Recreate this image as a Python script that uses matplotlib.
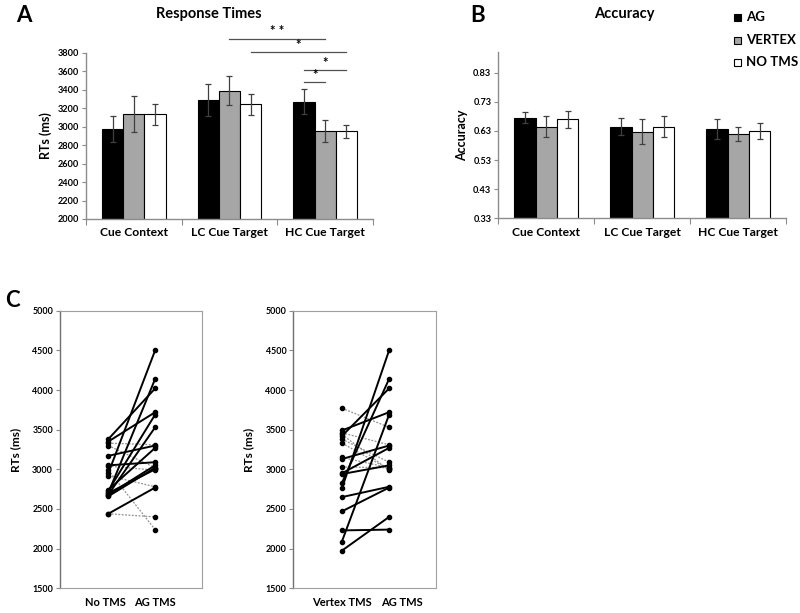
import matplotlib
matplotlib.use("Agg")
import matplotlib.pyplot as plt
import numpy as np

plt.rcParams['font.family'] = ['Lato', 'DejaVu Sans']
plt.rcParams['font.weight'] = 'bold'

# ---------------- data ----------------
categories = ["Cue Context", "LC Cue Target", "HC Cue Target"]
conditions = ["AG", "VERTEX", "NO TMS"]

rt_ag = [2975, 3290, 3270]
rt_vertex = [3140, 3390, 2950]
rt_notms = [3135, 3240, 2950]
rt_ag_err = [140, 170, 135]
rt_vertex_err = [195, 160, 120]
rt_notms_err = [115, 118, 70]

acc_ag = [0.676, 0.645, 0.637]
acc_vertex = [0.645, 0.628, 0.620]
acc_notms = [0.670, 0.645, 0.630]
acc_ag_err = [0.020, 0.028, 0.033]
acc_vertex_err = [0.036, 0.042, 0.023]
acc_notms_err = [0.030, 0.035, 0.027]

# significance brackets: (x start, x end, height, label)
sig_x1 = [1.0, 1.22, 1.78, 1.78]
sig_x2 = [2.0, 2.22, 2.22, 2.0]
sig_y = [3950, 3808, 3613, 3483]
sig_lbl = ["* *", "*", "*", "*"]

# individual subjects (paired)
ag_tms = [4500, 4140, 4020, 3720, 3690, 3530, 3300, 3270, 3310, 3090,
          3050, 3020, 3000, 3020, 2990, 2770, 2780, 2400, 2240]
no_tms = [2950, 2700, 3380, 3350, 2730, 2680, 3170, 2740, 3330, 3050,
          2680, 2660, 2700, 3300, 3040, 2440, 2920, 2440, 2990]
vertex_tms = [2760, 2830, 3420, 3490, 2090, 3770, 3130, 2950, 3460, 3380,
              2940, 3030, 3330, 3150, 3440, 2470, 2650, 1975, 2230]

colors = ["#000000", "#a6a6a6", "#ffffff"]
W, H = 800, 613
fig = plt.figure(figsize=(8, 6.13), dpi=100)

def fx(px):
    return px / W

def fy(py):
    return 1 - py / H

spine_col = "#8c8c8c"

def bar_panel(ax, vals, errs, ylim, yticks, ylabels, ylabel):
    x = np.arange(len(categories))
    w = 0.222
    offs = [-w, 0, w]
    for i in range(3):
        ax.bar(x + offs[i], vals[i], w, yerr=errs[i], color=colors[i],
               edgecolor="#000000", linewidth=0.8,
               error_kw=dict(ecolor="#404040", elinewidth=0.9, capsize=2.5, capthick=0.9),
               label=conditions[i], zorder=2)
    ax.set_xlim(-0.5, 2.5)
    ax.set_ylim(*ylim)
    ax.set_yticks(yticks)
    ax.set_yticklabels(ylabels, fontsize=6.6, fontweight='bold')
    ax.set_xticks([-0.5, 0.5, 1.5, 2.5])
    ax.set_xticklabels([])
    ax.set_xticks(x, minor=True)
    ax.set_xticklabels(categories, minor=True, fontsize=8.7, fontweight='bold')
    ax.tick_params(axis='x', which='minor', length=0, pad=6)
    ax.tick_params(axis='x', which='major', length=4, color=spine_col)
    ax.tick_params(axis='y', length=3, color=spine_col, pad=2)
    for s in ["top", "right"]:
        ax.spines[s].set_visible(False)
    for s in ["left", "bottom"]:
        ax.spines[s].set_color(spine_col)
        ax.spines[s].set_linewidth(1.0)
    ax.set_ylabel(ylabel, fontsize=9, fontweight='bold', labelpad=4)

# Panel A
axA = fig.add_axes([fx(86), fy(219), fx(287), fy(52.7) - fy(219)])
rt_ticks = list(range(2000, 3801, 200))
bar_panel(axA, [rt_ag, rt_vertex, rt_notms], [rt_ag_err, rt_vertex_err, rt_notms_err],
          (2000, 3800), rt_ticks, [str(t) for t in rt_ticks], "RTs (ms)")
for x1, x2, yy, lb in zip(sig_x1, sig_x2, sig_y, sig_lbl):
    axA.plot([x1, x2], [yy, yy], color="#505050", lw=0.9, clip_on=False)
    axA.text((x1 + x2) / 2, yy + 15, lb, ha='center', va='bottom', fontsize=9.5,
             fontweight='bold', clip_on=False)
fig.text(fx(209), fy(14), "Response Times", ha='center', va='center', fontsize=10.5, fontweight='bold')
fig.text(fx(24), fy(15), "A", ha='center', va='center', fontsize=16, fontweight='bold')

# Panel B
axB = fig.add_axes([fx(498.3), fy(218.3), fx(288), fy(52.3) - fy(218.3)])
acc_ticks = [0.33, 0.43, 0.53, 0.63, 0.73, 0.83]
bar_panel(axB, [acc_ag, acc_vertex, acc_notms], [acc_ag_err, acc_vertex_err, acc_notms_err],
          (0.33, 0.90), acc_ticks, ["{:.2f}".format(t) for t in acc_ticks], "Accuracy")
fig.text(fx(624), fy(14), "Accuracy", ha='center', va='center', fontsize=10.5, fontweight='bold')
fig.text(fx(478), fy(15), "B", ha='center', va='center', fontsize=16, fontweight='bold')

# legend
leg_y = [17, 40, 62]
for c, lab, yy in zip(colors, conditions, leg_y):
    fig.patches.append(plt.Rectangle((fx(734), fy(yy + 4)), fx(7), fy(yy - 3) - fy(yy + 4),
                                     transform=fig.transFigure, facecolor=c,
                                     edgecolor="#000000", linewidth=0.8))
    fig.text(fx(746), fy(yy), lab, ha='left', va='center', fontsize=9.5, fontweight='bold')

# Panel C
def pair_panel(left, width, before, after, labels, label_pos):
    ax = fig.add_axes([fx(left), fy(588.3), fx(width), fy(310.7) - fy(588.3)])
    for b, a in zip(before, after):
        if a >= b:
            ax.plot([0, 1], [b, a], color="#000000", lw=1.4, zorder=3)
        else:
            ax.plot([0, 1], [b, a], color="#909090", lw=0.9, ls=(0, (1.5, 1.2)), zorder=2)
    ax.plot(np.zeros(len(before)), before, 'o', color="#000000", ms=3.0, zorder=4)
    ax.plot(np.ones(len(after)), after, 'o', color="#000000", ms=3.0, zorder=4)
    ax.set_xlim(-1.03, 2.0)
    ax.set_ylim(1500, 5000)
    c_ticks = list(range(1500, 5001, 500))
    ax.set_yticks(c_ticks)
    ax.set_yticklabels([str(t) for t in c_ticks], fontsize=6.4, fontweight='bold')
    ax.set_xticks(label_pos)
    ax.set_xticklabels(labels, fontsize=8, fontweight='bold')
    ax.tick_params(axis='x', length=0, pad=6)
    ax.tick_params(axis='y', length=3, color=spine_col, pad=2)
    for s in ax.spines.values():
        s.set_color("#a0a0a0")
        s.set_linewidth(0.8)
    ax.spines['left'].set_color("#707070")
    ax.spines['left'].set_linewidth(1.0)
    ax.set_ylabel("RTs (ms)", fontsize=8.5, fontweight='bold', labelpad=8)
    return ax

pair_panel(60, 142, no_tms, ag_tms, ["No TMS", "AG TMS"], [-0.05, 1.0])
pair_panel(293.3, 143, vertex_tms, ag_tms, ["Vertex TMS", "AG TMS"], [0.0, 1.27])
fig.text(fx(12), fy(300), "C", ha='center', va='center', fontsize=16, fontweight='bold')

fig.savefig("out.png", dpi=100)
